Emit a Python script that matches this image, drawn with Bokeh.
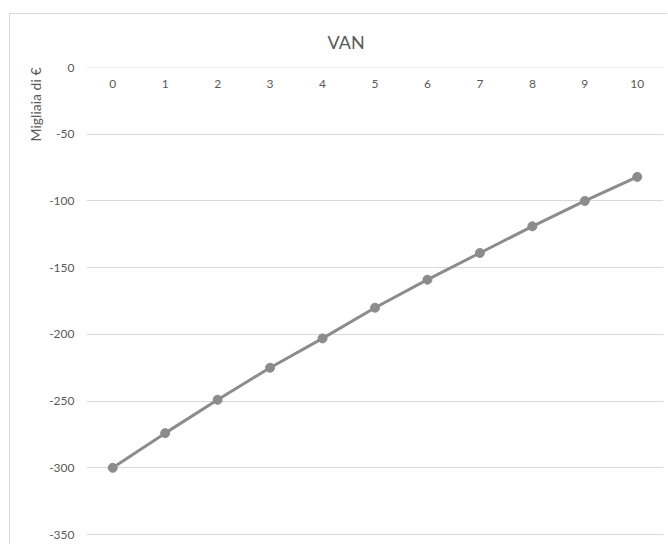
from bokeh.plotting import figure
from bokeh.models import Range1d, FixedTicker, Title
from bokeh.embed import file_html
from bokeh.resources import INLINE

# ---- data ----
years = [0, 1, 2, 3, 4, 5, 6, 7, 8, 9, 10]
year_labels = ["0", "1", "2", "3", "4", "5", "6", "7", "8", "9", "10"]
van = [-300, -274, -249, -225, -203, -180, -159, -139, -119, -100, -82]
y_ticks = [0, -50, -100, -150, -200, -250, -300, -350]
y_tick_labels = ["0", "-50", "-100", "-150", "-200", "-250", "-300", "-350"]
title_text = "VAN"
y_title = "Migliaia di €"

FONT = "Lato"
TXT = "#595959"
GRID = "#d9d9d9"
LINE = "#8c8c8c"

p = figure(width=658, height=531, output_backend="svg", toolbar_location=None,
           x_range=Range1d(-0.5, 10.5), y_range=Range1d(-358.2, 0.0),
           min_border_left=76, min_border_right=5, min_border_top=53,
           min_border_bottom=0)
p.styles = {"margin-left": "9px", "margin-top": "13px",
            "border-left": f"1px solid {GRID}", "border-top": f"1px solid {GRID}"}
p.outline_line_color = None
p.background_fill_color = "white"
p.border_fill_color = "white"

# x axis at y = 0, labels below the line
xa = p.xaxis[0]
xa.fixed_location = 0
xa.ticker = FixedTicker(ticks=years)
xa.major_label_overrides = {y: l for y, l in zip(years, year_labels)}
xa.axis_line_color = GRID
xa.major_tick_line_color = None
xa.minor_tick_line_color = None
xa.major_label_standoff = 6
xa.major_label_text_font = FONT
xa.major_label_text_font_size = "12px"
xa.major_label_text_color = TXT

ya = p.yaxis[0]
ya.ticker = FixedTicker(ticks=y_ticks)
ya.major_label_overrides = {v: l for v, l in zip(y_ticks, y_tick_labels)}
ya.axis_line_color = None
ya.major_tick_line_color = None
ya.minor_tick_line_color = None
ya.major_label_standoff = 6
ya.major_label_text_font = FONT
ya.major_label_text_font_size = "12px"
ya.major_label_text_color = TXT

p.xgrid.grid_line_color = None
p.ygrid.grid_line_color = GRID
p.ygrid.grid_line_width = 1

p.line(years, van, line_color=LINE, line_width=3)
p.scatter(years, van, size=9, fill_color=LINE, line_color=LINE)

t = Title(text=title_text, align="left", offset=241, text_font=FONT,
          text_font_size="18px", text_font_style="normal", text_color=TXT,
          standoff=29)
p.add_layout(t, "above")

yt = Title(text=y_title, align="right", offset=0, text_font=FONT,
           text_font_size="14px", text_font_style="normal", text_color=TXT,
           standoff=5)
p.add_layout(yt, "left")

open("out.html", "w").write(file_html(p, INLINE))
